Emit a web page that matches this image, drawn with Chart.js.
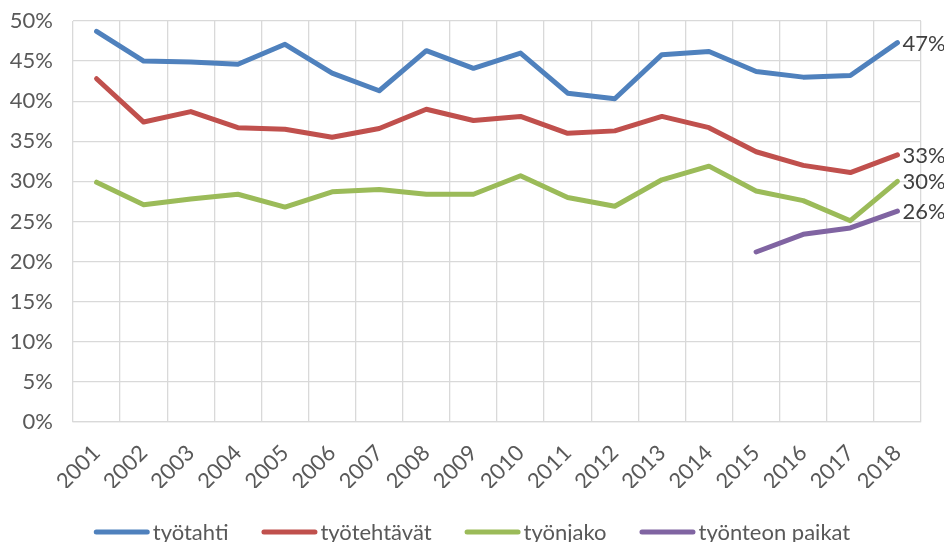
<!DOCTYPE html>
<html>
<head>
<meta charset="utf-8">
<script src="https://cdn.jsdelivr.net/npm/chart.js@4"></script>
<style>
  body { margin: 0; background: #fff; }
  #wrap { width: 944px; height: 542px; position: relative; }
</style>
</head>
<body>
<div id="wrap"><canvas id="chart"></canvas></div>
<script>
const years = ['2001','2002','2003','2004','2005','2006','2007','2008','2009',
  '2010','2011','2012','2013','2014','2015','2016','2017','2018'];

const tyotahti = [48.7, 45.0, 44.9, 44.6, 47.1, 43.5, 41.3, 46.3, 44.1,
  46.0, 41.0, 40.3, 45.8, 46.2, 43.7, 43.0, 43.2, 47.3];
const tyotehtavat = [42.8, 37.4, 38.7, 36.7, 36.5, 35.5, 36.6, 39.0, 37.6,
  38.1, 36.0, 36.3, 38.1, 36.7, 33.7, 32.0, 31.1, 33.3];
const tyonjako = [29.9, 27.1, 27.8, 28.4, 26.8, 28.7, 29.0, 28.4, 28.4,
  30.7, 28.0, 26.9, 30.2, 31.9, 28.8, 27.6, 25.1, 30.0];
const tyonteonPaikat = [null, null, null, null, null, null, null, null, null,
  null, null, null, null, null, 21.2, 23.4, 24.2, 26.3];

const yTicks = [0, 5, 10, 15, 20, 25, 30, 35, 40, 45, 50];

const fontFamily = 'Lato, "Open Sans", sans-serif';

function series(label, data, color) {
  return {
    label: label,
    data: data,
    borderColor: color,
    backgroundColor: color,
    borderWidth: 5,
    borderCapStyle: 'round',
    borderJoinStyle: 'round',
    pointRadius: 0,
    tension: 0,
    spanGaps: false
  };
}

// draws the value of the last point to the right of each line
const endLabels = {
  id: 'endLabels',
  afterDatasetsDraw(chart) {
    const ctx = chart.ctx;
    ctx.save();
    ctx.font = '22px ' + fontFamily;
    ctx.fillStyle = '#404040';
    ctx.textBaseline = 'middle';
    ctx.textAlign = 'left';
    chart.data.datasets.forEach((ds, i) => {
      const meta = chart.getDatasetMeta(i);
      const last = meta.data[meta.data.length - 1];
      const v = ds.data[ds.data.length - 1];
      ctx.fillText(Math.round(v) + '%', last.x + 5, last.y + 1);
    });
    ctx.restore();
  }
};

// legend in the bottom strip: short thick line + name, centred
const bottomLegend = {
  id: 'bottomLegend',
  afterDraw(chart) {
    const ctx = chart.ctx;
    const lineLen = 56, textGap = 3, itemGap = 33, y = 532;
    ctx.save();
    ctx.font = '22px ' + fontFamily;
    const items = chart.data.datasets.map(ds => ({
      label: ds.label, color: ds.borderColor, w: ctx.measureText(ds.label).width
    }));
    let total = 0;
    items.forEach((it, i) => {
      total += lineLen + textGap + it.w + (i < items.length - 1 ? itemGap : 0);
    });
    let x = (chart.width - total) / 2;
    ctx.lineCap = 'round';
    ctx.lineWidth = 5;
    ctx.textBaseline = 'middle';
    ctx.fillStyle = '#595959';
    items.forEach(it => {
      ctx.strokeStyle = it.color;
      ctx.beginPath();
      ctx.moveTo(x + 2.5, y);
      ctx.lineTo(x + lineLen - 2.5, y);
      ctx.stroke();
      ctx.fillText(it.label, x + lineLen + textGap, y + 1);
      x += lineLen + textGap + it.w + itemGap;
    });
    ctx.restore();
  }
};

new Chart(document.getElementById('chart'), {
  type: 'line',
  data: {
    labels: years,
    datasets: [
      series('työtahti', tyotahti, '#4f81bd'),
      series('työtehtävät', tyotehtavat, '#c0504d'),
      series('työnjako', tyonjako, '#9bbb59'),
      series('työnteon paikat', tyonteonPaikat, '#8064a2')
    ]
  },
  options: {
    responsive: true,
    maintainAspectRatio: false,
    animation: false,
    layout: { padding: { top: 21, right: 23, left: 0, bottom: 54 } },
    plugins: {
      tooltip: { enabled: false },
      legend: { display: false }
    },
    scales: {
      x: {
        offset: true,
        grid: { offset: true, color: '#d9d9d9', lineWidth: 1.3, drawTicks: false },
        border: { color: '#d9d9d9', width: 1.3 },
        ticks: {
          color: '#595959',
          font: { family: fontFamily, size: 22 },
          maxRotation: 45,
          minRotation: 45,
          autoSkip: false,
          padding: 18
        },
        afterFit(scale) {
          scale.height = 66;
          scale.paddingLeft = 0;
          scale.paddingRight = 0;
        }
      },
      y: {
        min: 0,
        max: 50,
        afterBuildTicks(axis) {
          axis.ticks = yTicks.map(v => ({ value: v }));
        },
        grid: { color: '#d9d9d9', lineWidth: 1.3, drawTicks: false },
        border: { display: false },
        ticks: {
          color: '#595959',
          font: { family: fontFamily, size: 22 },
          padding: 20,
          callback: v => v + '%'
        },
        afterFit(scale) {
          scale.width = 73;
          scale.paddingTop = 0;
          scale.paddingBottom = 0;
        }
      }
    }
  },
  plugins: [endLabels, bottomLegend]
});
</script>
</body>
</html>
